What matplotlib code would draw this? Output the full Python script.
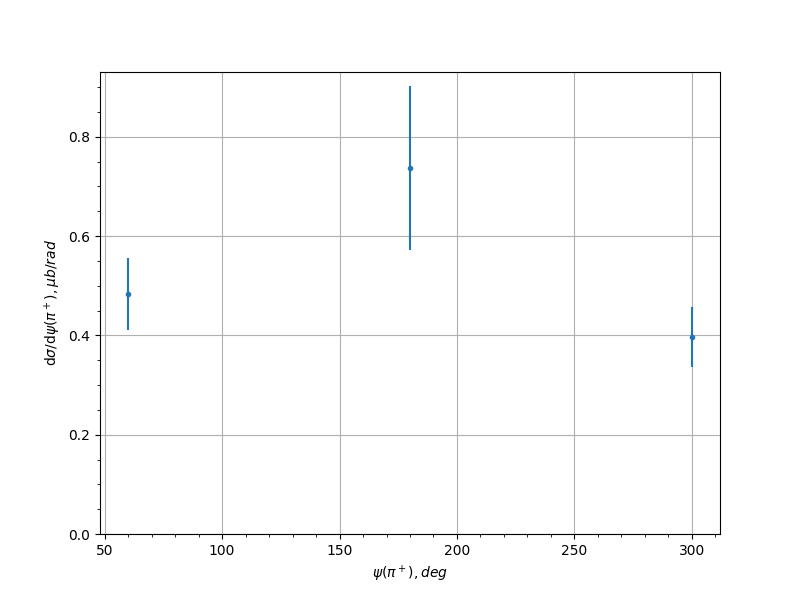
import matplotlib
matplotlib.use("Agg")
import matplotlib.pyplot as plt

psi = [60, 180, 300]
dsig = [0.483, 0.737, 0.397]
err = [0.072, 0.165, 0.060]

fig, ax = plt.subplots(figsize=(8, 6), dpi=100)
ax.errorbar(psi, dsig, yerr=err, fmt='.')
ax.set_ylim(bottom=0)
ax.minorticks_on()
ax.grid(True, which='major')
ax.set_xlabel(r'$\psi(\pi^+), deg$')
ax.set_ylabel(r'd$\sigma$/d$\psi(\pi^+), \mu b/rad$')
fig.savefig('out.png')
